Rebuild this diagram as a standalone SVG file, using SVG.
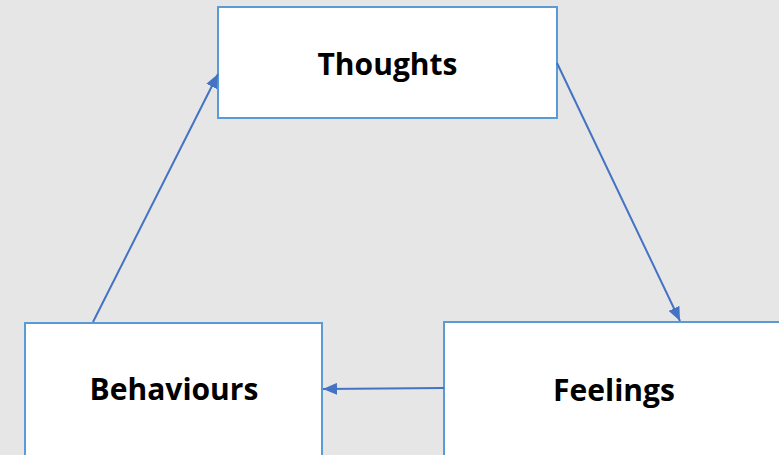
<svg xmlns="http://www.w3.org/2000/svg" width="779" height="455" viewBox="0 0 779 455">
<style>
.box{fill:#fff;stroke:#5B9BD5;stroke-width:2}
.lbl{font-family:"Open Sans","Liberation Sans",sans-serif;font-weight:700;font-size:30px;fill:#000;text-anchor:middle}
.con{stroke:#4472C4;stroke-width:2;fill:none;marker-end:url(#ah)}
</style>
<defs>
<marker id="ah" viewBox="0 0 14 12" refX="14" refY="6" markerWidth="14" markerHeight="12" markerUnits="userSpaceOnUse" orient="auto">
<path d="M0,0 L14,6 L0,12 Z" fill="#4472C4"/>
</marker>
</defs>
<rect width="779" height="455" fill="#E6E6E6"/>
<g id="thoughts"><rect class="box" x="218" y="7" width="339" height="111"/><text class="lbl" x="387.5" y="75">Thoughts</text></g>
<g id="behaviours"><rect class="box" x="25" y="323" width="297" height="140"/><text class="lbl" x="174" y="400">Behaviours</text></g>
<g id="feelings"><rect class="box" x="444" y="322" width="345" height="140"/><text class="lbl" x="614" y="401">Feelings</text></g>
<g id="connectors">
<line class="con" x1="93" y1="322" x2="218" y2="74"/>
<line class="con" x1="557" y1="63" x2="680" y2="321"/>
<line class="con" x1="444" y1="388" x2="323" y2="389"/>
</g>
</svg>
